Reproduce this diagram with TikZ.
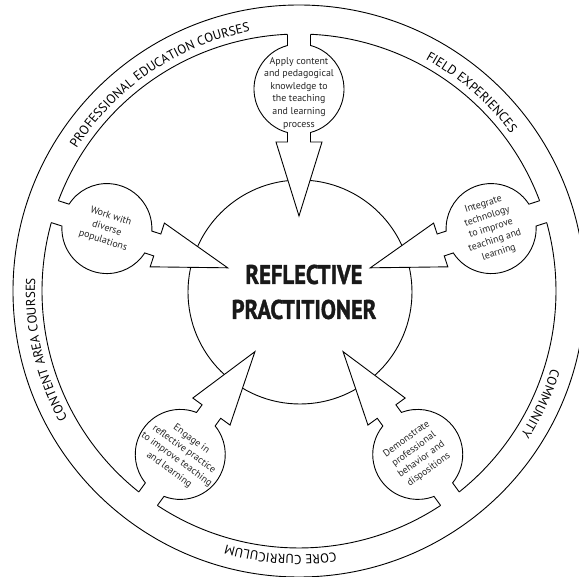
\documentclass[tikz,border=0pt]{standalone}
\usepackage{fontspec}
\setmainfont{PT Sans}
\newfontfamily\titlefont[FakeStretch=0.84,FakeBold=1.3]{PT Sans}
\usetikzlibrary{decorations.text}
\newcommand\ringfont{\fontsize{13}{15}\selectfont}
\begin{document}
\begin{tikzpicture}[x=1pt,y=1pt,line width=0.9pt,
  ringlabel/.style={decorate,decoration={text along path,text align=center,text={#1}}},
  bubbletext/.style={align=center,font=\fontsize{9.9}{12.6}\selectfont,inner sep=0pt,text=black!85}]
\useasboundingbox (-299,-286) rectangle (280,291);
\fill[white] (-299,-286) rectangle (280,291);
% outer circle
\draw (0,0) circle[radius=286];
% inner circle
\draw (1,-1) circle[radius=112];
% ring arcs between bubbles
\foreach \a in {90,162,234,306,378}{
  \draw (\a+2.57:257) arc[start angle=\a+2.57,end angle=\a+72-2.57,radius=257];
}
% bubbles with arrows
\foreach \a in {90,162,234,306,18}{
\begin{scope}[rotate=\a]
  \fill[white] (149,23) -- (75,0) -- (149,-23) -- cycle;
  \draw[line join=miter] (256.74,11.5) -- (245.5,11.5)
     arc[start angle=14.8,end angle=165.2,radius=45] -- (149,11.5) -- (149,23)
     -- (75,0) -- (149,-23) -- (149,-11.5) -- (158.5,-11.5)
     arc[start angle=194.8,end angle=345.2,radius=45] -- (256.74,-11.5);
\end{scope}
}
% bubble texts
\node[bubbletext] (apply) at (0,198) {Apply content\\and pedagogical\\knowledge to\\the teaching\\and learning\\process};
\node[bubbletext,rotate=-18] (work) at (162:202) {Work with\\diverse\\populations};
\node[bubbletext,rotate=18] (integ) at (18:202) {Integrate\\technology\\to improve\\teaching and\\learning};
\node[bubbletext,rotate=-36] (engage) at (234:202) {Engage in\\reflective practice\\to improve teaching\\and learning};
\node[bubbletext,rotate=36] (demo) at (306:202) {Demonstrate\\professional\\behavior and\\dispositions};
% title
\node[align=center,font=\titlefont\bfseries\fontsize{27}{35}\selectfont,text=black!90] (title) at (5,-1) {REFLECTIVE\\PRACTITIONER};
% ring labels
\path[ringlabel={|\ringfont|PROFESSIONAL EDUCATION COURSES}] (162:264) arc[start angle=162,end angle=86,radius=264];
\path[ringlabel={|\ringfont|FIELD EXPERIENCES}] (85:264) arc[start angle=85,end angle=13,radius=264];
\path[ringlabel={|\ringfont|COMMUNITY}] (10:264) arc[start angle=10,end angle=-60,radius=264];
\path[ringlabel={|\ringfont|CORE CURRICULUM}] (301:264) arc[start angle=301,end angle=231,radius=264];
\path[ringlabel={|\ringfont|CONTENT AREA COURSES}] (230:264) arc[start angle=230,end angle=156,radius=264];
\end{tikzpicture}
\end{document}
